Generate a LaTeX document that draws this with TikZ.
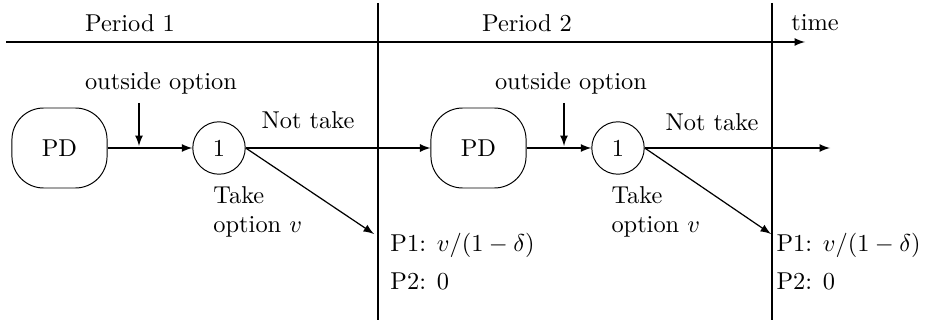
\documentclass[tikz,border=0pt]{standalone}
\usetikzlibrary{arrows}
\begin{document}
\begin{tikzpicture}[x=0.41pt,y=-0.41pt,
  pd/.style={draw,rounded corners=13pt,minimum width=39pt,minimum height=32.8pt,inner sep=0pt},
  dec/.style={draw,circle,minimum size=21.5pt,inner sep=0pt},
  lbl/.style={inner sep=0pt},
  arr/.style={-latex,line width=0.5pt},
  ln/.style={line width=0.5pt}]
\useasboundingbox (0,0) rectangle (926,326);
% timeline
\coordinate (t0) at (6,42);
\coordinate (t1) at (805,42);
\draw[arr] (t0) -- (t1);
\coordinate (v1a) at (378,3); \coordinate (v1b) at (378,320);
\coordinate (v2a) at (772,3); \coordinate (v2b) at (772,320);
\draw[ln] (v1a) -- (v1b);
\draw[ln] (v2a) -- (v2b);
\node[lbl] (per1) at (130,23) {Period 1};
\node[lbl] (per2) at (527,23) {Period 2};
\node[lbl] (time) at (815,23) {time};
% nodes
\node[pd] (pd1) at (59.5,148) {PD};
\node[dec] (c1) at (219,148) {1};
\node[pd] (pd2) at (478.5,148) {PD};
\node[dec] (c2) at (618,148) {1};
\draw[arr] (pd1) -- (c1);
\draw[arr] (c1) -- (pd2);
\draw[arr] (pd2) -- (c2);
\coordinate (end2) at (830,148);
\draw[arr] (c2) -- (end2);
% outside options
\node[lbl] (oo1) at (161,83) {outside option};
\coordinate (oa1) at (139,103); \coordinate (ob1) at (139,146);
\draw[arr] (oa1) -- (ob1);
\node[lbl] (oo2) at (571,83) {outside option};
\coordinate (oa2) at (564,103); \coordinate (ob2) at (564,146);
\draw[arr] (oa2) -- (ob2);
% not take
\node[lbl] (nt1) at (308,120) {Not take};
\node[lbl] (nt2) at (712,122) {Not take};
% take
\coordinate (tk1) at (374,234);
\draw[arr] (c1.east) -- (tk1);
\coordinate (tk2) at (771,234);
\draw[arr] (c2.east) -- (tk2);
\node[lbl,align=left,anchor=west] (to1) at (213,212) {Take\\option $v$};
\node[lbl,align=left,anchor=west] (to2) at (611,212) {Take\\option $v$};
% payoffs
\node[lbl,anchor=west] (p11) at (390,245) {P1: $v/(1-\delta)$};
\node[lbl,anchor=west] (p21) at (390,281) {P2: 0};
\node[lbl,anchor=west] (p12) at (776,245) {P1: $v/(1-\delta)$};
\node[lbl,anchor=west] (p22) at (776,281) {P2: 0};
\end{tikzpicture}
\end{document}
